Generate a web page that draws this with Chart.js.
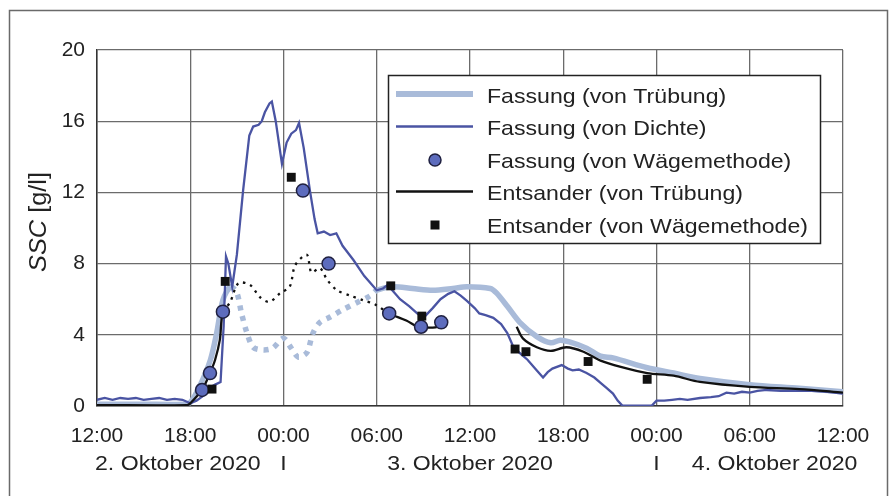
<!DOCTYPE html>
<html>
<head>
<meta charset="utf-8">
<script src="https://cdn.jsdelivr.net/npm/chart.js@4.4.1/dist/chart.umd.min.js"></script>
<style>
body { margin: 0; background: #fff; }
canvas { display: block; }
</style>
</head>
<body>
<canvas id="canvas" width="891" height="496"></canvas>
<script>
// hours since 2. Oktober 2020 12:00
const timeLabels = ['12:00', '18:00', '00:00', '06:00', '12:00', '18:00', '00:00', '06:00', '12:00'];
const dateLabels = ['2. Oktober 2020', 'I', '3. Oktober 2020', 'I', '4. Oktober 2020'];
const dateHours = [5.2, 12, 24, 36, 43.6];

// Fassung (von Dichte)
const dichteH = [0, 0.5, 1, 1.5, 2, 2.5, 3, 3.5, 4, 4.5, 5, 5.5, 6, 6.4, 6.8, 7.2, 7.6, 7.95, 8.15, 8.3, 8.45, 8.7, 9.0, 9.4, 9.8, 10.05, 10.4, 10.6, 10.8, 11.1, 11.25, 11.5, 11.9, 12.2, 12.5, 12.8, 13.0, 13.3, 13.7, 14.0, 14.2, 14.6, 15.0, 15.4, 15.8, 16.5, 17.2, 18.0, 18.4, 18.7, 18.9, 19.5, 20.1, 20.6, 21.0, 21.6, 22.1, 22.6, 23.0, 23.4, 23.8, 24.3, 24.6, 25.0, 25.5, 26.0, 26.4, 26.8, 27.3, 27.7, 28.3, 28.7, 29.0, 29.3, 29.9, 30.3, 30.6, 31.0, 31.5, 32.0, 32.4, 32.8, 33.2, 33.5, 33.8, 35.7, 36.0, 36.5, 37.0, 37.5, 38.0, 38.8, 39.5, 40.0, 40.5, 41.0, 41.5, 42.0, 42.5, 43.1, 44.0, 45.0, 46.0, 47.0, 48.0];
const dichteV = [0.35, 0.45, 0.35, 0.45, 0.4, 0.45, 0.35, 0.4, 0.45, 0.35, 0.4, 0.35, 0.15, 0.3, 0.55, 1.0, 1.2, 1.35, 4.5, 8.4, 8.0, 6.7, 8.5, 12.1, 15.2, 15.7, 15.8, 16.0, 16.5, 17.0, 17.1, 16.0, 13.6, 14.8, 15.3, 15.5, 15.9, 14.5, 12.1, 10.5, 9.7, 9.8, 9.6, 9.7, 9.0, 8.2, 7.3, 6.5, 6.6, 6.8, 6.6, 6.0, 5.6, 5.2, 4.95, 5.5, 6.0, 6.3, 6.45, 6.2, 5.9, 5.5, 5.2, 5.1, 4.95, 4.6, 4.1, 3.3, 2.9, 2.6, 2.0, 1.6, 1.9, 2.1, 2.3, 2.1, 2.0, 2.05, 1.85, 1.6, 1.3, 1.0, 0.7, 0.3, 0.02, 0.02, 0.3, 0.3, 0.35, 0.4, 0.35, 0.45, 0.5, 0.55, 0.75, 0.7, 0.8, 0.75, 0.85, 0.9, 0.85, 0.85, 0.85, 0.8, 0.7];

// Fassung (von Trübung), dotted between 8.6 h and 18 h
const truebH = [0, 3, 5.5, 6.0, 6.6, 7.3, 7.7, 8.1, 8.6, 9.0, 9.3, 9.65, 10.05, 10.7, 11.3, 12.0, 12.5, 12.95, 13.5, 13.9, 14.35, 15.0, 15.8, 16.7, 17.6, 18.0, 19.0, 20.3, 21.6, 22.9, 23.8, 25.3, 25.7, 26.4, 27.2, 28.3, 29.2, 29.8, 30.4, 31.5, 32.4, 33.2, 35.4, 37.1, 38.8, 42.0, 45.2, 48.0];
const truebV = [0.1, 0.1, 0.1, 0.2, 1.1, 2.6, 4.1, 5.95, 6.7, 6.35, 5.2, 4.1, 3.3, 3.15, 3.25, 3.8, 3.25, 2.75, 3.0, 4.1, 4.7, 5.0, 5.4, 5.8, 6.2, 6.5, 6.7, 6.6, 6.5, 6.6, 6.7, 6.6, 6.35, 5.6, 4.7, 3.9, 3.55, 3.7, 3.6, 3.25, 2.8, 2.7, 2.15, 1.85, 1.55, 1.2, 1.0, 0.8];
const truebDotted = [8.6, 18.0];

// Entsander (von Trübung), dotted between 8.1 h and 18.8 h
const entsH = [0, 5.8, 6.0, 6.76, 7.27, 7.6, 7.9, 8.1, 8.55, 9.1, 9.85, 10.5, 11.1, 11.8, 12.4, 12.75, 13.5, 13.8, 14.35, 14.8, 15.45, 16.3, 17.1, 17.9, 18.8, 19.9, 20.6, 20.9, 21.9, 22.15, 24.5, 27.0, 27.4, 28.3, 29.2, 30.2, 31.3, 32.4, 33.7, 35.4, 37.1, 38.8, 42.0, 45.2, 48.0];
const entsV = [0.05, 0.05, 0.15, 0.9, 1.85, 2.6, 3.7, 5.3, 5.8, 6.9, 6.8, 6.1, 5.85, 6.35, 6.7, 7.9, 8.5, 7.5, 7.75, 7.1, 6.5, 6.2, 5.95, 5.7, 5.2, 4.8, 4.45, 4.4, 4.45, 4.7, null, 4.45, 3.8, 3.3, 3.1, 3.3, 3.05, 2.55, 2.2, 1.85, 1.7, 1.35, 1.07, 0.95, 0.75];
const entsDotted = [8.1, 18.8];

// Wägemethode
const fassProbeH = [6.76, 7.27, 8.1, 13.25, 14.9, 18.8, 20.85, 22.15];
const fassProbeV = [0.9, 1.85, 5.3, 12.1, 8.0, 5.2, 4.45, 4.7];
const entsProbeH = [7.4, 8.25, 12.5, 18.9, 20.9, 26.9, 27.6, 31.6, 35.4];
const entsProbeV = [0.95, 7.0, 12.85, 6.75, 5.05, 3.2, 3.05, 2.5, 1.5];

const FONT = "'Liberation Sans', Arial, sans-serif";
const lightBlue = '#a9bbd9';
const darkBlue = '#4a54a3';
const circleFill = '#5d6cbd';

function pts(h, v) {
    return h.map(function (x, i) { return { x: x, y: v[i] }; });
}
function dotted(range, dash) {
    return function (ctx) {
        if (ctx.p0.parsed.x >= range[0] && ctx.p1.parsed.x <= range[1]) return dash;
        return undefined;
    };
}

// text drawn a bit wider like in the scan
function wideText(ctx, str, x, y, font, align) {
    ctx.save();
    ctx.font = font;
    var w = ctx.measureText(str).width * 1.1;
    var x0 = align === 'center' ? x - w / 2 : x;
    ctx.translate(x0, y);
    ctx.scale(1.1, 1);
    ctx.textAlign = 'left';
    ctx.fillText(str, 0, 0);
    ctx.restore();
}

const extras = {
    id: 'extras',
    beforeDraw: function (chart) {
        var c = chart.ctx;
        c.save();
        c.fillStyle = '#fff';
        c.fillRect(0, 0, chart.width, chart.height);
        c.restore();
    },
    afterDraw: function (chart) {
        var c = chart.ctx;
        var xs = chart.scales.x;
        c.save();
        // outer frame
        c.strokeStyle = '#6a6a6a';
        c.lineWidth = 1.5;
        c.beginPath();
        c.moveTo(9.5, 500);
        c.lineTo(9.5, 10.5);
        c.lineTo(887.5, 10.5);
        c.lineTo(887.5, 500);
        c.stroke();

        // date row
        c.fillStyle = '#222';
        c.textBaseline = 'alphabetic';
        dateLabels.forEach(function (t, i) {
            wideText(c, t, xs.getPixelForValue(dateHours[i]), 470, '21px ' + FONT, 'center');
        });

        // y axis title, SSC in italic
        c.translate(40, 222);
        c.rotate(-Math.PI / 2);
        c.scale(1.1, 1);
        c.font = 'italic 23px ' + FONT;
        var w1 = c.measureText('SSC').width;
        c.font = '23px ' + FONT;
        var w2 = c.measureText(' [g/l]').width;
        c.textBaseline = 'middle';
        c.textAlign = 'left';
        c.font = 'italic 23px ' + FONT;
        c.fillText('SSC', -(w1 + w2) / 2, 0);
        c.font = '23px ' + FONT;
        c.fillText(' [g/l]', -(w1 + w2) / 2 + w1, 0);
        c.restore();

        // legend box
        c.save();
        c.fillStyle = '#fff';
        c.fillRect(388, 75, 432, 168);
        c.strokeStyle = '#222';
        c.lineWidth = 1.5;
        c.strokeRect(388.5, 75.5, 432, 168);
        var rows = [
            { t: 'Fassung (von Trübung)', kind: 'line', color: lightBlue, w: 6 },
            { t: 'Fassung (von Dichte)', kind: 'line', color: darkBlue, w: 2.5 },
            { t: 'Fassung (von Wägemethode)', kind: 'circle' },
            { t: 'Entsander (von Trübung)', kind: 'line', color: '#111', w: 2.5 },
            { t: 'Entsander (von Wägemethode)', kind: 'square' }
        ];
        rows.forEach(function (r, i) {
            var y = 96 + i * 32.5;
            if (r.kind === 'line') {
                c.strokeStyle = r.color;
                c.lineWidth = r.w;
                c.beginPath();
                c.moveTo(396, y - 2);
                c.lineTo(473, y - 2);
                c.stroke();
            } else if (r.kind === 'circle') {
                c.fillStyle = circleFill;
                c.strokeStyle = '#1f2040';
                c.lineWidth = 1.5;
                c.beginPath();
                c.arc(435, y - 1, 6, 0, Math.PI * 2);
                c.fill();
                c.stroke();
            } else {
                c.fillStyle = '#111';
                c.fillRect(430.5, y - 5.5, 9, 9);
            }
            c.fillStyle = '#222';
            c.textBaseline = 'middle';
            wideText(c, r.t, 487, y + 1, '21px ' + FONT, 'left');
        });
        c.restore();
    }
};

const canvas = document.getElementById('canvas');
const chart = new Chart(canvas, {
    type: 'line',
    data: {
        datasets: [
            {
                label: 'Entsander (von Wägemethode)',
                data: pts(entsProbeH, entsProbeV),
                showLine: false,
                pointStyle: 'rect',
                pointRadius: 6.3,
                backgroundColor: '#111',
                borderColor: '#111',
                borderWidth: 0,
                order: 0
            },
            {
                label: 'Fassung (von Wägemethode)',
                data: pts(fassProbeH, fassProbeV),
                showLine: false,
                pointStyle: 'circle',
                pointRadius: 6.5,
                backgroundColor: circleFill,
                borderColor: '#1f2040',
                borderWidth: 1.5,
                order: 1
            },
            {
                label: 'Entsander (von Trübung)',
                data: pts(entsH, entsV),
                borderColor: '#111',
                borderWidth: 2.3,
                pointRadius: 0,
                spanGaps: false,
                tension: 0.3,
                segment: { borderDash: dotted(entsDotted, [2.5, 5]) },
                order: 2
            },
            {
                label: 'Fassung (von Dichte)',
                data: pts(dichteH, dichteV),
                borderColor: darkBlue,
                borderWidth: 2.3,
                pointRadius: 0,
                tension: 0,
                order: 3
            },
            {
                label: 'Fassung (von Trübung)',
                data: pts(truebH, truebV),
                borderColor: lightBlue,
                borderWidth: 5.5,
                pointRadius: 0,
                tension: 0.3,
                borderCapStyle: 'butt',
                segment: { borderDash: dotted(truebDotted, [5, 6]) },
                order: 4
            }
        ]
    },
    options: {
        responsive: false,
        animation: false,
        events: [],
        layout: { padding: { top: 50, right: 48, left: 0, bottom: 0 } },
        scales: {
            x: {
                type: 'linear',
                min: 0,
                max: 48,
                afterBuildTicks: function (s) {
                    s.ticks = timeLabels.map(function (t, i) { return { value: i * 6 }; });
                },
                afterFit: function (s) { s.height = 90; },
                grid: { color: '#6b6b6b', lineWidth: 1.3, drawTicks: false },
                border: { color: '#333', width: 1.5 },
                ticks: {
                    callback: function (v, i) { return timeLabels[i]; },
                    font: { size: 21, family: FONT },
                    color: '#222',
                    padding: 18,
                    maxRotation: 0,
                    autoSkip: false
                }
            },
            y: {
                min: 0,
                max: 20,
                afterFit: function (s) { s.width = 97; },
                grid: { color: '#6b6b6b', lineWidth: 1.3, drawTicks: false },
                border: { color: '#333', width: 1.5 },
                ticks: {
                    stepSize: 4,
                    font: { size: 21, family: FONT },
                    color: '#222',
                    padding: 12
                }
            }
        },
        plugins: {
            legend: { display: false },
            tooltip: { enabled: false }
        }
    },
    plugins: [extras]
});
</script>
</body>
</html>
